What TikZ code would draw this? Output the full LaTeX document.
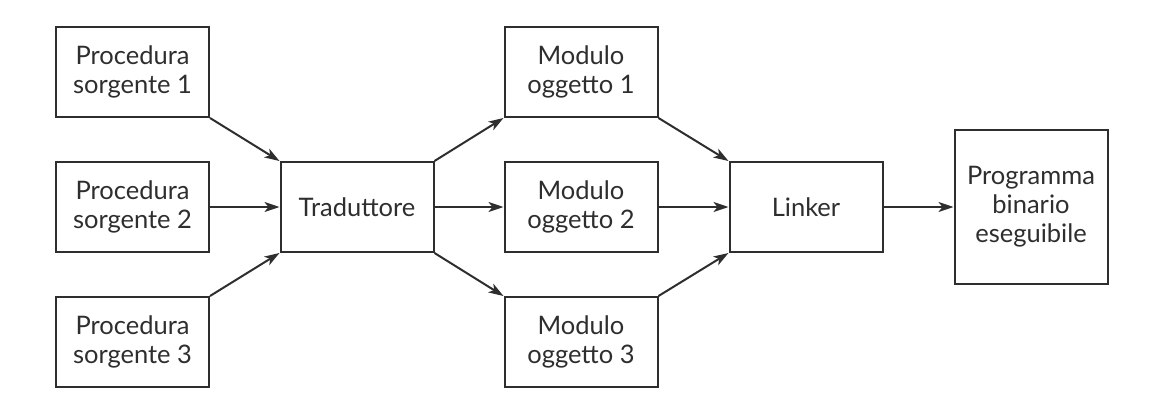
\documentclass[tikz,border=0pt]{standalone}
\usepackage{fontspec}
\setmainfont{Lato}
\usetikzlibrary{arrows.meta}
\definecolor{ink}{HTML}{2E2E2E}
\begin{document}
\begin{tikzpicture}[x=1pt,y=-1pt,
  box/.style={draw=ink,line width=2pt,minimum width=153pt,minimum height=90pt,inner sep=0pt,
    align=center,text=ink,font=\fontsize{25.5}{29}\selectfont},
  arr/.style={draw=ink,line width=2pt,-{Stealth[length=15pt,width=10pt,inset=4pt]}}]
\useasboundingbox (0,0) rectangle (1150,412);
\node[box] (p1) at (132.5,72) {Procedura\\sorgente 1};
\node[box] (p2) at (132.5,207) {Procedura\\sorgente 2};
\node[box] (p3) at (132.5,342) {Procedura\\sorgente 3};
\node[box] (t) at (357,207) {Traduttore};
\node[box] (m1) at (581,72) {Modulo\\oggetto 1};
\node[box] (m2) at (581,207) {Modulo\\oggetto 2};
\node[box] (m3) at (581,342) {Modulo\\oggetto 3};
\node[box] (l) at (806,207) {Linker};
\node[box,minimum height=154pt] (b) at (1031,207) {Programma\\binario\\eseguibile};
\draw[arr] (p1.south east) -- (t.north west);
\draw[arr] (p2.east) -- (t.west);
\draw[arr] (p3.north east) -- (t.south west);
\draw[arr] (t.north east) -- (m1.south west);
\draw[arr] (t.east) -- (m2.west);
\draw[arr] (t.south east) -- (m3.north west);
\draw[arr] (m1.south east) -- (l.north west);
\draw[arr] (m2.east) -- (l.west);
\draw[arr] (m3.north east) -- (l.south west);
\draw[arr] (l.east) -- (b.west);
\end{tikzpicture}
\end{document}
